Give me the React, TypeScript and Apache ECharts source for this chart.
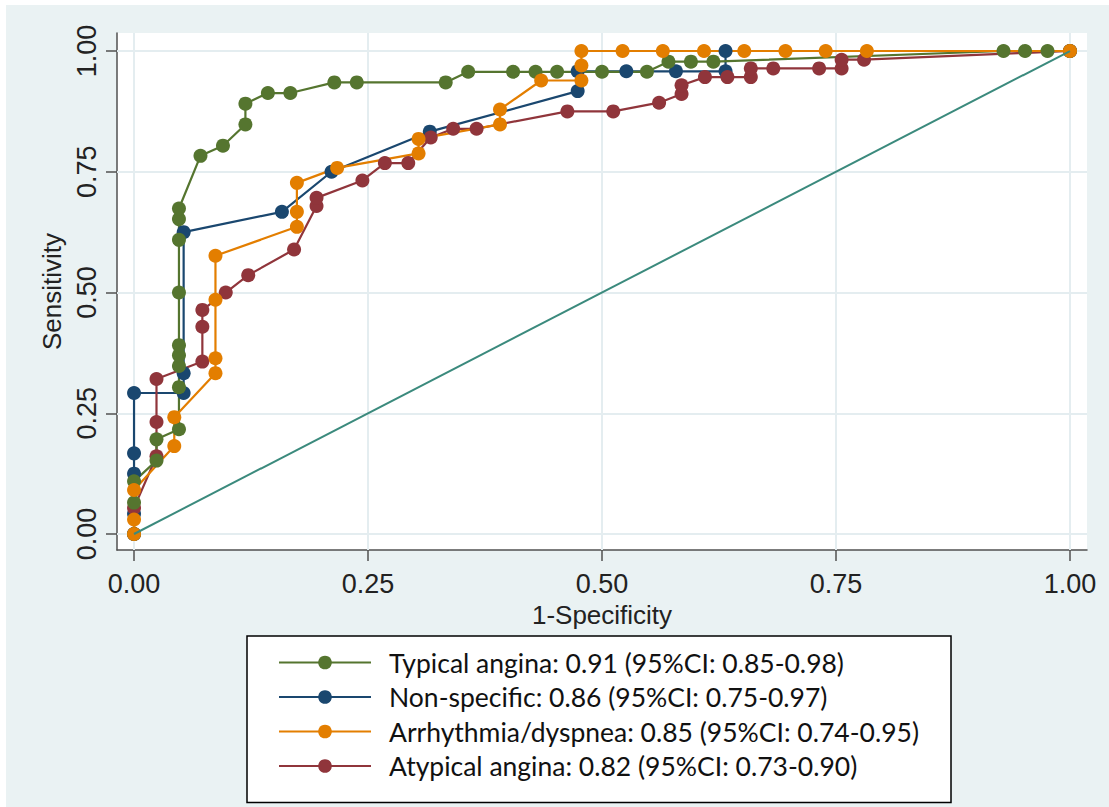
import React, { useEffect, useRef } from "react";
import * as echarts from "echarts";

// Tick values and labels
const tickValues = [0, 0.25, 0.5, 0.75, 1];
const tickLabels = ["0.00", "0.25", "0.50", "0.75", "1.00"];

// Series names
const seriesNames = [
  "Typical angina: 0.91 (95%CI: 0.85-0.98)",
  "Non-specific: 0.86 (95%CI: 0.75-0.97)",
  "Arrhythmia/dyspnea: 0.85 (95%CI: 0.74-0.95)",
  "Atypical angina: 0.82 (95%CI: 0.73-0.90)",
];

// Typical angina (green)
const typicalX = [0, 0, 0, 0.024, 0.024, 0.048, 0.048, 0.048, 0.048, 0.048, 0.048, 0.048, 0.048, 0.048, 0.071, 0.095, 0.119, 0.119, 0.143, 0.167, 0.214, 0.238, 0.333, 0.357, 0.405, 0.429, 0.452, 0.5, 0.548, 0.571, 0.595, 0.619, 0.929, 0.952, 0.976, 1];
const typicalY = [0, 0.065, 0.109, 0.152, 0.196, 0.217, 0.304, 0.348, 0.37, 0.391, 0.5, 0.609, 0.652, 0.674, 0.783, 0.804, 0.848, 0.891, 0.913, 0.913, 0.935, 0.935, 0.935, 0.957, 0.957, 0.957, 0.957, 0.957, 0.957, 0.978, 0.978, 0.978, 1, 1, 1, 1];

// Non-specific (navy)
const nonSpecX = [0, 0, 0, 0, 0, 0.053, 0.053, 0.053, 0.158, 0.211, 0.316, 0.474, 0.474, 0.526, 0.579, 0.632, 0.632, 1];
const nonSpecY = [0, 0.042, 0.125, 0.167, 0.292, 0.292, 0.333, 0.625, 0.667, 0.75, 0.833, 0.917, 0.958, 0.958, 0.958, 0.958, 1, 1];

// Arrhythmia/dyspnea (orange)
const arrhX = [0, 0, 0, 0.043, 0.043, 0.087, 0.087, 0.087, 0.087, 0.174, 0.174, 0.174, 0.217, 0.304, 0.304, 0.391, 0.391, 0.435, 0.478, 0.478, 0.478, 0.522, 0.565, 0.609, 0.652, 0.696, 0.739, 0.783, 1];
const arrhY = [0, 0.03, 0.091, 0.182, 0.242, 0.333, 0.364, 0.485, 0.576, 0.636, 0.667, 0.727, 0.758, 0.788, 0.818, 0.848, 0.879, 0.939, 0.939, 0.97, 1, 1, 1, 1, 1, 1, 1, 1, 1];

// Atypical angina (maroon)
const atypX = [0, 0, 0.024, 0.024, 0.024, 0.073, 0.073, 0.073, 0.098, 0.122, 0.171, 0.195, 0.195, 0.244, 0.268, 0.293, 0.317, 0.341, 0.366, 0.463, 0.512, 0.561, 0.585, 0.585, 0.61, 0.634, 0.659, 0.659, 0.683, 0.732, 0.756, 0.756, 0.78, 1];
const atypY = [0, 0.054, 0.161, 0.232, 0.321, 0.357, 0.429, 0.464, 0.5, 0.536, 0.589, 0.679, 0.696, 0.732, 0.768, 0.768, 0.821, 0.839, 0.839, 0.875, 0.875, 0.893, 0.911, 0.929, 0.946, 0.946, 0.946, 0.964, 0.964, 0.964, 0.964, 0.982, 0.982, 1];

// Reference diagonal
const refX = [0, 1];
const refY = [0, 1];

const zip = (xs: number[], ys: number[]) => xs.map((x, i) => [x, ys[i]]);

const GREEN = "#55752f";
const NAVY = "#1a476f";
const ORANGE = "#e37e00";
const MAROON = "#90353b";
const TEAL = "#3b8a7d";
const BG = "#eaf2f3";
const GRID = "#e4edf0";

export default function App() {
  const ref = useRef<HTMLDivElement>(null);

  useEffect(() => {
    if (!ref.current) return;
    const chart = echarts.init(ref.current, null, { renderer: "svg" });

    const axisFont = "Liberation Sans, Arial, sans-serif";
    const fmt = (v: number) => {
      const i = tickValues.findIndex((t) => Math.abs(t - v) < 1e-9);
      return i >= 0 ? tickLabels[i] : "";
    };

    const lineSeries = (name: string, xs: number[], ys: number[], color: string, extra: any = {}) => ({
      name,
      type: "line",
      data: zip(xs, ys),
      symbol: "circle",
      symbolSize: 14,
      showAllSymbol: true,
      lineStyle: { color, width: 2.2 },
      itemStyle: { color },
      emphasis: { disabled: true },
      z: 2,
      ...extra,
    });

    const gridLines = [
      ...tickValues.map((v) => ({ xAxis: v })),
      ...tickValues.map((v) => ({ yAxis: v })),
    ];

    chart.setOption({
      animation: false,
      backgroundColor: BG,
      grid: {
        left: 111,
        top: 28,
        width: 970,
        height: 517,
        show: true,
        backgroundColor: "#ffffff",
        borderWidth: 0,
      },
      xAxis: {
        type: "value",
        min: -0.0182,
        max: 1.0182,
        name: "1-Specificity",
        nameLocation: "middle",
        nameGap: 48,
        nameTextStyle: { fontSize: 26, fontFamily: axisFont, color: "#222" },
        axisLine: { show: true, onZero: false, lineStyle: { color: "#505050", width: 1.5 } },
        axisTick: { show: true, length: 11, customValues: tickValues, lineStyle: { color: "#505050", width: 1.5 } },
        axisLabel: { customValues: tickValues, formatter: fmt, fontSize: 27, fontFamily: axisFont, color: "#222", margin: 20 },
        splitLine: { show: false },
      },
      yAxis: {
        type: "value",
        min: -0.0331,
        max: 1.0373,
        name: "Sensitivity",
        nameLocation: "middle",
        nameGap: 46,
        nameRotate: 90,
        nameTextStyle: { fontSize: 26, fontFamily: axisFont, color: "#222" },
        axisLine: { show: true, onZero: false, lineStyle: { color: "#505050", width: 1.5 } },
        axisTick: { show: true, length: 11, customValues: tickValues, lineStyle: { color: "#505050", width: 1.5 } },
        axisLabel: { customValues: tickValues, formatter: fmt, rotate: 90, fontSize: 27, fontFamily: axisFont, color: "#222", margin: 17 },
        splitLine: { show: false },
      },
      legend: {
        data: seriesNames,
        orient: "vertical",
        left: 241,
        top: 631,
        padding: [13, 32, 23, 31],
        itemWidth: 92,
        itemHeight: 17,
        itemGap: 7.5,
        borderColor: "#000",
        borderWidth: 1.5,
        backgroundColor: "#ffffff",
        textStyle: { fontSize: 26.5, fontFamily: "Lato, sans-serif", color: "#111", padding: [0, 0, 0, 13] },
      },
      series: [
        lineSeries(seriesNames[1], nonSpecX, nonSpecY, NAVY, {
          markLine: {
            silent: true,
            z: 1,
            symbol: ["none", "none"],
            label: { show: false },
            lineStyle: { color: GRID, width: 2, type: "solid" },
            emphasis: { disabled: true },
            data: gridLines,
          },
        }),
        lineSeries(seriesNames[3], atypX, atypY, MAROON),
        lineSeries(seriesNames[0], typicalX, typicalY, GREEN),
        lineSeries(seriesNames[2], arrhX, arrhY, ORANGE),
        {
          name: "Reference",
          type: "line",
          data: zip(refX, refY),
          showSymbol: false,
          symbol: "none",
          lineStyle: { color: TEAL, width: 2 },
          itemStyle: { color: TEAL },
          emphasis: { disabled: true },
          z: 3,
        },
      ],
    });

    return () => chart.dispose();
  }, []);

  return (
    <div
      ref={ref}
      style={{ position: "fixed", left: 6, top: 5, width: 1103, height: 802, background: BG }}
    />
  );
}
